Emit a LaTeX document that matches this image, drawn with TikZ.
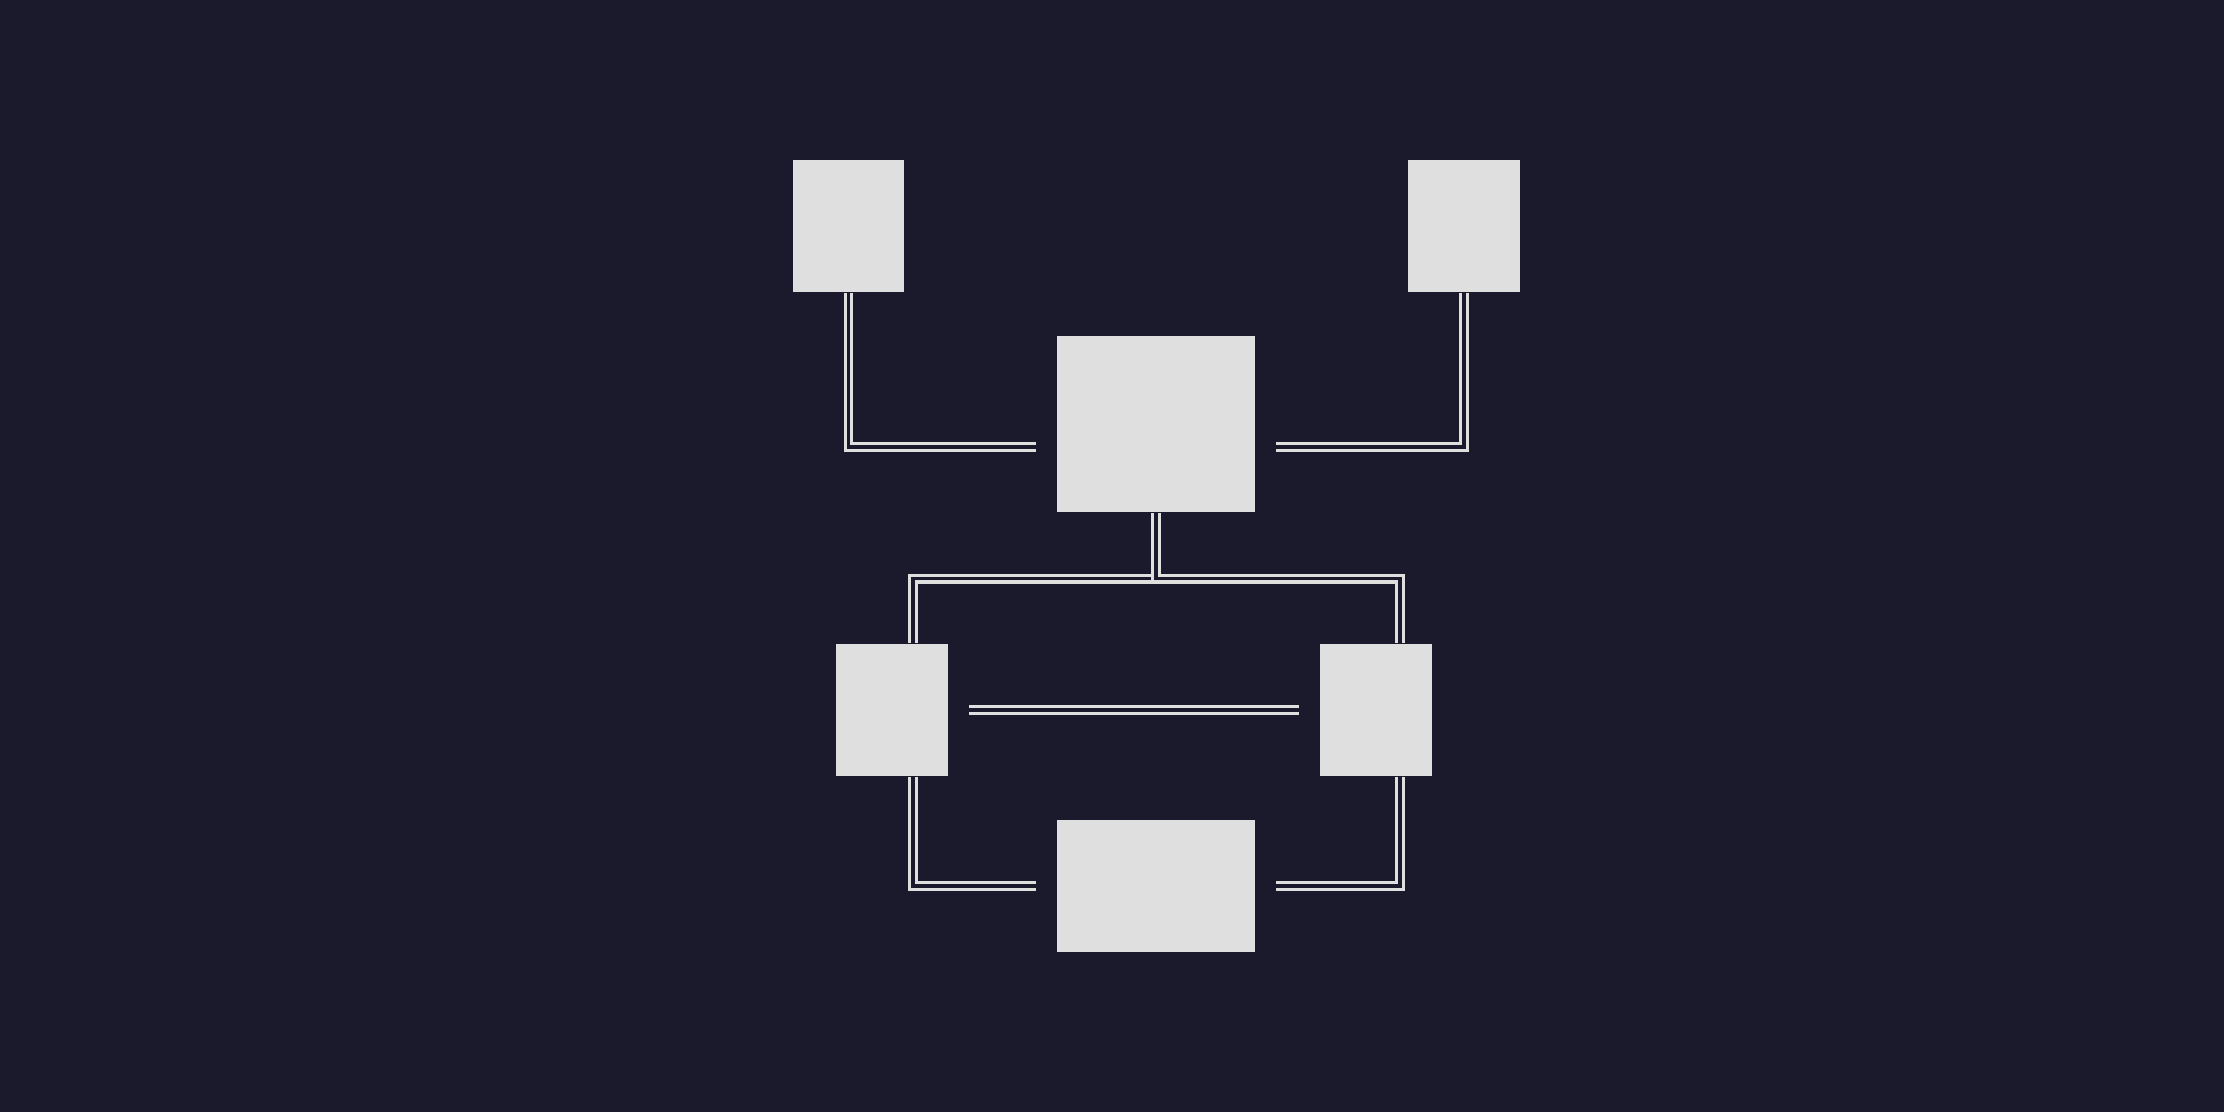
\documentclass[tikz,border=0pt]{standalone}
\usepackage{tikz}
\usepackage{xcolor}

\definecolor{bgnavy}{HTML}{1B1A2D}
\definecolor{boxgrey}{HTML}{DFDFDF}

\tikzset{
    block/.style={fill=boxgrey, inner sep=0pt, minimum width=1.11cm, minimum height=1.32cm},
    wideblock/.style={block, minimum width=1.98cm},
    link/.style={draw=boxgrey, line width=0.9pt, double=bgnavy, double distance=0.95pt}
}

\begin{document}
\begin{tikzpicture}[x=0.01cm, y=-0.01cm]
        % Background
        \fill[bgnavy] (0,0) rectangle (2224,1112);

        % Blocks
        \node[block] (tl) at (848.5,226) {};
        \node[block] (tr) at (1464,226) {};
        \node[wideblock, minimum height=1.76cm] (hub) at (1156,424) {};
        \node[block] (ml) at (892,710) {};
        \node[block] (mr) at (1376,710) {};
        \node[wideblock] (bot) at (1156,886) {};

        % Free ends beside the wide blocks
        \coordinate (hubL) at (1036,447);
        \coordinate (hubR) at (1276,447);
        \coordinate (botL) at (1036,886);
        \coordinate (botR) at (1276,886);

        % Top links
        \draw[link] (tl.south) |- (hubL);
        \draw[link] (tr.south) |- (hubR);

        % Hub down to the middle blocks
        \draw[link] (hub.south) -- ++(0,66) -| ([xshift=0.21cm]ml.north);
        \draw[link] (hub.south) -- ++(0,66) -| ([xshift=0.24cm]mr.north);

        % Middle link
        \draw[link, shorten <=0.21cm, shorten >=0.21cm] (ml.east) -- (mr.west);

        % Bottom links
        \draw[link] ([xshift=0.21cm]ml.south) |- (botL);
        \draw[link] ([xshift=0.24cm]mr.south) |- (botR);
    \end{tikzpicture}
\end{document}
